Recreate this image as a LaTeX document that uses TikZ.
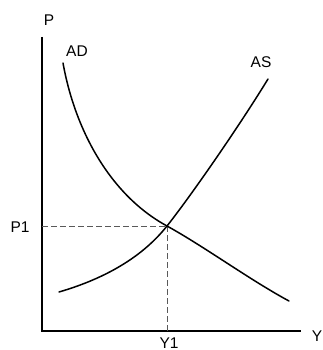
\documentclass[tikz,border=0pt]{standalone}
\usepackage{fontspec}
\setmainfont{Liberation Sans}
\begin{document}
\begin{tikzpicture}[x=1pt,y=-1pt,
  lbl/.style={inner sep=0pt,font=\fontsize{15.5}{18}\selectfont},
  axis/.style={line width=1.8pt,line cap=butt},
  curve/.style={line width=1.5pt,line cap=round},
  guide/.style={line width=0.8pt,black!65,dash pattern=on 6pt off 3pt}]
\useasboundingbox (0,0) rectangle (322,350);
% axes
\coordinate (top) at (42,37);
\coordinate (origin) at (42,331);
\coordinate (right) at (301,331);
\draw[axis] (top) -- (origin) -- (right);
% labels
\node[lbl] (P) at (49,20) {P};
\node[lbl] (Y) at (317,336) {Y};
\node[lbl] (AD) at (77,51) {AD};
\node[lbl] (AS) at (261,62) {AS};
\node[lbl] (P1) at (20,227) {P1};
\node[lbl,anchor=base] (Y1) at (169,348) {Y1};
% equilibrium
\coordinate (E) at (167,226);
\coordinate (Ey) at (42,226);
\coordinate (Ex) at (167,331);
\draw[guide] (Ey) -- (E);
\draw[guide] (E) -- (Ex);
% AD curve
\coordinate (ADs) at (63,63);
\coordinate (ADe) at (289,301);
\draw[curve] (ADs) .. controls (75,130) and (110,195) .. (E)
  .. controls (205,247) and (250,280) .. (ADe);
% AS curve
\coordinate (ASs) at (59,292);
\coordinate (ASe) at (268,79);
\draw[curve] (ASs) .. controls (100,280) and (140,260) .. (E)
  .. controls (190,197) and (238,128) .. (ASe);
\end{tikzpicture}
\end{document}
